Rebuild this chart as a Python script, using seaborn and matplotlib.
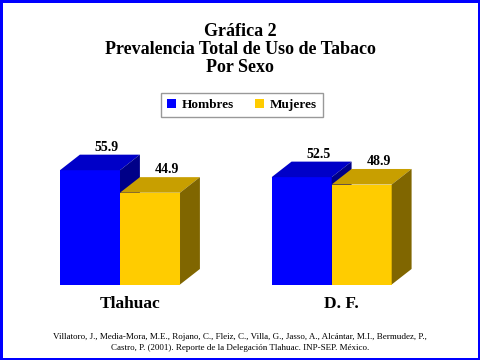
import numpy as np
import pandas as pd
import matplotlib
matplotlib.use("Agg")
import matplotlib.pyplot as plt
from matplotlib.patches import Polygon, Patch, Rectangle
import seaborn as sns

# data
regiones = ["Tlahuac", "D. F."]
sexos = ["Hombres", "Mujeres"]
hombres = [55.9, 52.5]
mujeres = [44.9, 48.9]

titulo = ["Gráfica 2", "Prevalencia Total de Uso de Tabaco", "Por Sexo"]
fuente = ["Villatoro, J., Media-Mora, M.E., Rojano, C., Fleiz, C., Villa, G., Jasso, A., Alcántar, M.I., Bermudez, P.,",
          "Castro, P. (2001). Reporte de la Delegación Tlahuac. INP-SEP. México."]

FRONT = ["#0000FF", "#FFCC00"]
TOP   = ["#0000C8", "#C89F00"]
SIDE  = ["#000088", "#806600"]
SERIF = "Liberation Serif"
DX, DY = 0.094, 7.6   # 3-d depth in data units


def main():
    df = pd.DataFrame({"region": regiones * 2,
                       "sexo": [sexos[0]] * 2 + [sexos[1]] * 2,
                       "valor": hombres + mujeres})

    sns.set_style("white")
    plt.rcParams["font.family"] = [SERIF, "DejaVu Serif"]
    plt.rcParams.update({"text.color": "black", "xtick.color": "black",
                         "axes.labelcolor": "black"})
    fig = plt.figure(figsize=(4.8, 3.6), dpi=100)
    ax = fig.add_axes([0.0295, 0.2097, 0.882, 0.426])

    sns.barplot(data=df, x="region", y="valor", hue="sexo", hue_order=sexos,
                palette=FRONT, width=0.567, saturation=1, linewidth=0,
                legend=False, ax=ax)

    for i, cont in enumerate(ax.containers):
        z = 2 + i
        for bar in cont:
            bar.set_zorder(z)
            x0, w, h = bar.get_x(), bar.get_width(), bar.get_height()
            x1 = x0 + w
            top = Polygon([(x0, h), (x0 + DX, h + DY), (x1 + DX, h + DY), (x1, h)],
                          closed=True, facecolor=TOP[i], edgecolor="none", zorder=z)
            side = Polygon([(x1, 0), (x1 + DX, DY), (x1 + DX, h + DY), (x1, h)],
                           closed=True, facecolor=SIDE[i], edgecolor="none", zorder=z)
            ax.add_patch(top); ax.add_patch(side)
            ax.text(x0 + w / 2 + 0.85 * DX, h + DY + 0.4, f"{h:.1f}",
                    ha="center", va="bottom", fontsize=10, fontweight="bold",
                    family=SERIF, zorder=5, clip_on=False)

    ax.set_xlim(-0.5, 1.5); ax.set_ylim(0, 75)
    ax.set_xticks(np.arange(len(regiones)) + DX / 2)
    ax.set_xticklabels(regiones, fontsize=12.5, fontweight="bold", family=SERIF)
    ax.tick_params(axis="x", length=0, pad=8)
    ax.set_yticks([])
    ax.set_xlabel(""); ax.set_ylabel("")
    sns.despine(ax=ax, left=True, bottom=True)

    for linea, y in zip(titulo, (31, 49.5, 67.5)):
        fig.text(0.5, 1 - y / 360, linea, ha="center", va="center", fontsize=13,
                 fontweight="bold", family=SERIF)

    handles = [Patch(facecolor=c, edgecolor="none") for c in FRONT]
    leg = fig.legend(handles, sexos, loc="center", bbox_to_anchor=(242 / 480, 1 - 105 / 360),
                     ncol=2, frameon=True, fancybox=False, edgecolor="#808080",
                     handlelength=0.7, handleheight=0.7, handletextpad=0.4,
                     columnspacing=1.6, borderpad=0.45,
                     prop={"family": SERIF, "weight": "bold", "size": 9.5})
    leg.get_frame().set_linewidth(1.0)

    fig.text(0.5, 1 - 337 / 360, fuente[0], ha="center", va="center", fontsize=6.5, family=SERIF)
    fig.text(0.5, 1 - 347.5 / 360, fuente[1], ha="center", va="center", fontsize=6.5, family=SERIF)

    fig.patches.append(Rectangle((0, 0), 1, 1, transform=fig.transFigure, fill=False,
                                 edgecolor="#0000FF", linewidth=3.6))
    fig.savefig("out.png", dpi=100)
    plt.close(fig)


if __name__ == "__main__":
    main()
